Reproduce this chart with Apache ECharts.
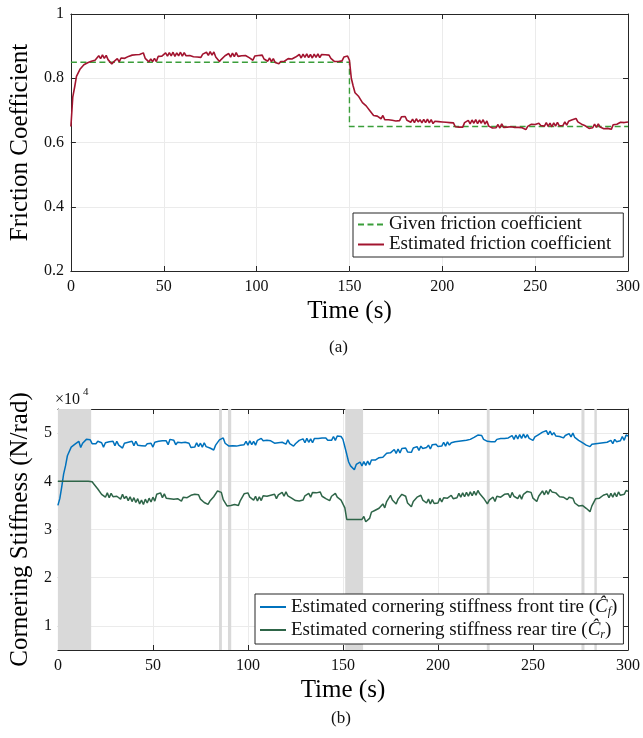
<!DOCTYPE html>
<html lang="en">
<head>
<meta charset="UTF-8">
<script src="https://cdn.jsdelivr.net/npm/echarts@6.0.0/dist/echarts.min.js"></script>
<title>Friction coefficient and cornering stiffness</title>
<style>
    html, body { margin: 0; padding: 0; background: #fff; }
    #chart { width: 643px; height: 738px; }
</style>
</head>
<body>
<div id="chart"></div>
<script type="text/javascript">
    // logged estimates, one sample per second
    var dt = 1;
    var timeTicks = [0, 50, 100, 150, 200, 250, 300];

    // (a) friction coefficient
    var muTicks = [0.2, 0.4, 0.6, 0.8, 1];
    var givenTime = [0, 150, 150, 300];
    var givenMu = [0.85, 0.85, 0.65, 0.65];
    var muEst = [
        0.650,0.741,0.772,0.806,0.811,0.829,0.830,0.842,0.838,0.848,
        0.844,0.853,0.847,0.856,0.858,0.870,0.861,0.873,0.862,0.871,
        0.858,0.857,0.844,0.851,0.847,0.861,0.851,0.863,0.857,0.862,
        0.862,0.868,0.865,0.872,0.866,0.873,0.868,0.874,0.869,0.879,
        0.862,0.861,0.851,0.860,0.852,0.862,0.852,0.868,0.863,0.869,
        0.865,0.879,0.869,0.880,0.870,0.881,0.868,0.879,0.870,0.881,
        0.869,0.880,0.870,0.876,0.871,0.877,0.867,0.872,0.866,0.871,
        0.865,0.875,0.870,0.881,0.871,0.883,0.872,0.882,0.866,0.866,
        0.852,0.859,0.855,0.870,0.867,0.877,0.866,0.878,0.867,0.880,
        0.868,0.874,0.870,0.875,0.871,0.876,0.864,0.865,0.856,0.869,
        0.865,0.871,0.866,0.872,0.860,0.862,0.853,0.863,0.852,0.861,
        0.849,0.855,0.845,0.852,0.846,0.853,0.851,0.861,0.855,0.860,
        0.854,0.866,0.864,0.874,0.863,0.875,0.865,0.876,0.864,0.874,
        0.863,0.875,0.865,0.876,0.864,0.874,0.869,0.873,0.867,0.872,
        0.862,0.865,0.852,0.858,0.852,0.857,0.854,0.866,0.864,0.869,
        0.856,0.800,0.776,0.755,0.757,0.743,0.742,0.724,0.728,0.714,
        0.715,0.699,0.700,0.684,0.687,0.682,0.685,0.674,0.684,0.671,
        0.677,0.671,0.675,0.669,0.673,0.667,0.672,0.668,0.680,0.675,
        0.681,0.669,0.672,0.663,0.673,0.662,0.674,0.664,0.671,0.661,
        0.672,0.662,0.673,0.661,0.671,0.659,0.666,0.660,0.665,0.659,
        0.664,0.658,0.663,0.657,0.662,0.656,0.661,0.649,0.654,0.648,
        0.651,0.648,0.662,0.659,0.669,0.658,0.670,0.660,0.671,0.659,
        0.670,0.660,0.671,0.657,0.667,0.651,0.656,0.645,0.650,0.646,
        0.656,0.645,0.658,0.647,0.652,0.648,0.654,0.649,0.653,0.647,
        0.652,0.647,0.651,0.646,0.649,0.640,0.650,0.645,0.657,0.651,
        0.656,0.652,0.660,0.653,0.657,0.651,0.662,0.650,0.660,0.649,
        0.661,0.651,0.663,0.652,0.658,0.653,0.664,0.654,0.666,0.661,
        0.671,0.665,0.675,0.664,0.668,0.657,0.663,0.652,0.656,0.644,
        0.650,0.646,0.657,0.647,0.658,0.648,0.653,0.643,0.649,0.644,
        0.647,0.641,0.655,0.651,0.657,0.653,0.663,0.657,0.662,0.658,
        0.664
    ];

    // (b) cornering stiffness, in units of 10^4 N/rad
    var stiffTicks = [1, 2, 3, 4, 5];
    var frontStiff = [
        3.50,3.64,3.88,4.15,4.32,4.53,4.57,4.71,4.69,4.77,
        4.75,4.83,4.70,4.79,4.77,4.87,4.83,4.86,4.78,4.81,
        4.78,4.83,4.79,4.80,4.71,4.80,4.77,4.82,4.78,4.83,
        4.74,4.83,4.75,4.79,4.69,4.79,4.77,4.81,4.78,4.83,
        4.74,4.83,4.75,4.78,4.74,4.77,4.73,4.78,4.75,4.79,
        4.71,4.81,4.78,4.83,4.79,4.84,4.80,4.84,4.76,4.87,
        4.83,4.85,4.76,4.81,4.77,4.80,4.76,4.81,4.77,4.79,
        4.70,4.74,4.71,4.80,4.72,4.79,4.71,4.80,4.72,4.76,
        4.69,4.73,4.65,4.75,4.75,4.86,4.83,4.90,4.79,4.81,
        4.73,4.77,4.74,4.78,4.73,4.77,4.75,4.79,4.76,4.83,
        4.75,4.84,4.76,4.83,4.75,4.85,4.81,4.89,4.84,4.88,
        4.85,4.89,4.84,4.87,4.79,4.83,4.80,4.84,4.81,4.85,
        4.77,4.86,4.78,4.82,4.73,4.78,4.76,4.85,4.81,4.88,
        4.80,4.89,4.81,4.88,4.80,4.89,4.85,4.89,4.85,4.90,
        4.86,4.90,4.85,4.89,4.85,4.93,4.85,4.94,4.90,4.93,
        4.87,4.84,4.56,4.40,4.32,4.33,4.24,4.35,4.33,4.40,
        4.32,4.41,4.33,4.42,4.34,4.44,4.40,4.44,4.41,4.49,
        4.46,4.50,4.49,4.58,4.55,4.59,4.57,4.66,4.58,4.67,
        4.59,4.68,4.65,4.69,4.61,4.65,4.60,4.69,4.65,4.72,
        4.64,4.73,4.68,4.72,4.70,4.75,4.67,4.76,4.72,4.77,
        4.72,4.76,4.73,4.81,4.73,4.82,4.75,4.80,4.77,4.82,
        4.78,4.83,4.80,4.84,4.81,4.85,4.82,4.87,4.83,4.91,
        4.88,4.96,4.92,4.95,4.87,4.90,4.83,4.87,4.82,4.86,
        4.82,4.87,4.84,4.89,4.85,4.89,4.86,4.90,4.87,4.95,
        4.87,4.96,4.88,4.97,4.89,4.98,4.90,4.97,4.89,4.93,
        4.85,4.92,4.88,4.97,4.94,5.02,4.98,5.05,4.97,5.04,
        4.96,5.01,4.94,4.98,4.93,4.97,4.90,4.95,4.91,4.99,
        4.92,5.00,4.91,4.94,4.85,4.89,4.80,4.83,4.75,4.79,
        4.72,4.77,4.73,4.78,4.74,4.79,4.75,4.80,4.76,4.81,
        4.77,4.85,4.78,4.87,4.82,4.86,4.84,4.93,4.85,4.96,
        4.94
    ];
    var rearStiff = [
        4.00,4.00,4.00,4.00,4.00,4.00,4.00,4.00,4.00,4.00,
        4.00,4.00,4.00,4.00,4.00,4.00,4.00,4.00,3.99,3.94,
        3.94,3.84,3.82,3.73,3.77,3.67,3.76,3.66,3.75,3.68,
        3.71,3.69,3.72,3.63,3.73,3.64,3.69,3.60,3.68,3.58,
        3.66,3.56,3.64,3.53,3.61,3.52,3.63,3.55,3.65,3.57,
        3.67,3.59,3.73,3.73,3.76,3.66,3.74,3.65,3.69,3.64,
        3.67,3.63,3.66,3.64,3.68,3.59,3.67,3.63,3.66,3.63,
        3.71,3.69,3.73,3.70,3.72,3.63,3.65,3.56,3.60,3.52,
        3.59,3.57,3.68,3.70,3.80,3.79,3.77,3.62,3.61,3.49,
        3.52,3.50,3.54,3.52,3.56,3.50,3.60,3.64,3.74,3.71,
        3.76,3.67,3.70,3.61,3.69,3.59,3.68,3.60,3.70,3.66,
        3.69,3.67,3.71,3.69,3.73,3.64,3.72,3.68,3.77,3.69,
        3.78,3.70,3.73,3.65,3.68,3.60,3.64,3.59,3.63,3.61,
        3.70,3.67,3.75,3.67,3.77,3.73,3.76,3.74,3.78,3.69,
        3.73,3.64,3.68,3.60,3.69,3.66,3.75,3.67,3.71,3.61,
        3.58,3.45,3.21,3.21,3.21,3.21,3.21,3.21,3.21,3.21,
        3.21,3.27,3.16,3.18,3.23,3.36,3.37,3.40,3.40,3.44,
        3.43,3.53,3.45,3.58,3.59,3.71,3.61,3.62,3.53,3.63,
        3.63,3.73,3.69,3.69,3.55,3.55,3.47,3.58,3.58,3.67,
        3.64,3.71,3.61,3.64,3.55,3.63,3.53,3.62,3.54,3.58,
        3.55,3.65,3.57,3.66,3.62,3.65,3.63,3.71,3.64,3.68,
        3.66,3.75,3.67,3.76,3.68,3.77,3.69,3.78,3.70,3.79,
        3.71,3.81,3.74,3.77,3.65,3.63,3.53,3.61,3.59,3.67,
        3.58,3.69,3.65,3.67,3.64,3.73,3.70,3.74,3.66,3.77,
        3.69,3.73,3.64,3.72,3.63,3.73,3.71,3.79,3.75,3.77,
        3.65,3.65,3.58,3.69,3.69,3.80,3.72,3.81,3.73,3.83,
        3.78,3.81,3.76,3.78,3.68,3.71,3.67,3.70,3.62,3.67,
        3.63,3.65,3.55,3.58,3.49,3.50,3.50,3.50,3.44,3.46,
        3.37,3.49,3.52,3.64,3.61,3.65,3.63,3.71,3.67,3.74,
        3.66,3.75,3.67,3.76,3.68,3.78,3.71,3.75,3.73,3.81,
        3.79
    ];
    // shaded time spans (s)
    var bandStart = [0, 84.8, 89.5, 151.2, 225.7, 275.5, 282.3];
    var bandEnd = [17.5, 86.3, 91.2, 160.6, 227.2, 277.1, 283.6];

    var serif = 'Liberation Serif';
    var ink = '#262626';
    var gridGrey = '#ebebeb';

    function sampled(vals) {
        return vals.map(function (v, i) { return [i * dt, v]; });
    }
    function zip(xs, ys) {
        return xs.map(function (x, i) { return [x, ys[i]]; });
    }

    function axis(o) {
        return {
            type: 'value',
            gridIndex: o.grid,
            position: o.position,
            min: o.min, max: o.max, interval: o.interval,
            name: o.name || '',
            nameLocation: 'middle',
            nameGap: o.nameGap || 0,
            nameTextStyle: { fontFamily: serif, fontSize: 25, color: '#000' },
            axisLine: { show: true, onZero: false, lineStyle: { color: ink, width: 1 } },
            axisTick: { show: true, inside: true, length: 5, lineStyle: { color: ink }, customValues: o.ticks },
            axisLabel: {
                show: !!o.labels, margin: o.margin || 8, customValues: o.ticks,
                fontFamily: serif, fontSize: 16, color: '#111'
            },
            splitLine: { show: !!o.labels, lineStyle: { color: gridGrey, width: 1 } }
        };
    }

    var frontName = 'Estimated cornering stiffness front tire';
    var rearName = 'Estimated cornering stiffness rear tire';

    function legendBox(names, left, top, padding) {
        return {
            data: names,
            orient: 'vertical', left: left, top: top,
            itemWidth: 26, itemHeight: 12, itemGap: 1,
            padding: padding,
            borderColor: ink, borderWidth: 1, borderRadius: 0, backgroundColor: '#fff',
            itemStyle: { color: 'transparent', opacity: 0, borderWidth: 0 },
            textStyle: { fontFamily: serif, fontSize: 19, color: '#111' }
        };
    }

    var stiffLegend = legendBox([frontName, rearName], 255, 594, [2, 6, 3, 4]);
    stiffLegend.formatter = function (name) {
        var sub = name === frontName ? 'f' : 'r';
        return name + ' ({c|Ĉ}{s|' + sub + '})';
    };
    stiffLegend.textStyle = {
        fontFamily: serif, fontSize: 19, color: '#111', lineHeight: 22,
        rich: {
            c: { fontFamily: serif, fontSize: 19, fontStyle: 'italic', color: '#111', lineHeight: 22 },
            s: { fontFamily: serif, fontSize: 12, fontStyle: 'italic', color: '#111', lineHeight: 12, verticalAlign: 'bottom' }
        }
    };

    var chart = echarts.init(document.getElementById('chart'));
    var option = {
        animation: false,
        backgroundColor: '#fff',
        grid: [
            { left: 66, top: 14, width: 563, height: 257 },
            { left: 53, top: 409, width: 576, height: 241 }
        ],
        xAxis: [
            axis({ grid: 0, position: 'bottom', min: 0, max: 300, interval: 50, labels: true, name: 'Time (s)', nameGap: 28 }),
            axis({ grid: 0, position: 'top', min: 0, max: 300, interval: 50 }),
            axis({ grid: 1, position: 'bottom', min: 0, max: 300, interval: 50, labels: true, name: 'Time (s)', nameGap: 28 }),
            axis({ grid: 1, position: 'top', min: 0, max: 300, interval: 50 })
        ],
        yAxis: [
            axis({ grid: 0, position: 'left', min: 0.2, max: 1, interval: 0.2, labels: true, margin: 7, name: 'Friction Coefficient', nameGap: 33 }),
            axis({ grid: 0, position: 'right', min: 0.2, max: 1, interval: 0.2 }),
            axis({ grid: 1, position: 'left', min: 0.5, max: 5.5, ticks: stiffTicks, labels: true, margin: 6, name: 'Cornering Stiffness (N/rad)', nameGap: 23 }),
            axis({ grid: 1, position: 'right', min: 0.5, max: 5.5, ticks: stiffTicks })
        ],
        legend: [
            legendBox(['Given friction coefficient', 'Estimated friction coefficient'], 353, 213, [2, 12, 3, 4]),
            stiffLegend
        ],
        graphic: [
            { type: 'text', left: 329, top: 339, style: { text: '(a)', font: '17px "Liberation Serif"', fill: '#111' } },
            { type: 'text', left: 331, top: 710, style: { text: '(b)', font: '17px "Liberation Serif"', fill: '#111' } },
            { type: 'text', left: 55, top: 392, style: { text: '×10', font: '16px "Liberation Serif"', fill: '#111' } },
            { type: 'text', left: 83, top: 387, style: { text: '4', font: '11px "Liberation Serif"', fill: '#111' } }
        ],
        series: [
            {
                name: 'Given friction coefficient', type: 'line',
                xAxisIndex: 0, yAxisIndex: 0, z: 3,
                showSymbol: false, symbol: 'none',
                data: zip(givenTime, givenMu),
                lineStyle: { color: '#3a9e3a', width: 1.4, type: [6, 3.5] },
                itemStyle: { color: '#3a9e3a' }
            },
            {
                name: 'Estimated friction coefficient', type: 'line',
                xAxisIndex: 0, yAxisIndex: 0, z: 4,
                showSymbol: false, symbol: 'none',
                data: sampled(muEst),
                lineStyle: { color: '#a2142f', width: 1.6 },
                itemStyle: { color: '#a2142f' }
            },
            {
                name: 'bands', type: 'line',
                xAxisIndex: 2, yAxisIndex: 2, z: 2,
                data: [],
                markArea: {
                    silent: true,
                    itemStyle: { color: '#d9d9d9' },
                    data: bandStart.map(function (s, i) { return [{ xAxis: s }, { xAxis: bandEnd[i] }]; })
                }
            },
            {
                name: frontName, type: 'line',
                xAxisIndex: 2, yAxisIndex: 2, z: 3,
                showSymbol: false, symbol: 'none',
                data: sampled(frontStiff),
                lineStyle: { color: '#0072bd', width: 1.5 },
                itemStyle: { color: '#0072bd' }
            },
            {
                name: rearName, type: 'line',
                xAxisIndex: 2, yAxisIndex: 2, z: 4,
                showSymbol: false, symbol: 'none',
                data: sampled(rearStiff),
                lineStyle: { color: '#2e6548', width: 1.5 },
                itemStyle: { color: '#2e6548' }
            }
        ]
    };
    chart.setOption(option);
</script>
</body>
</html>
